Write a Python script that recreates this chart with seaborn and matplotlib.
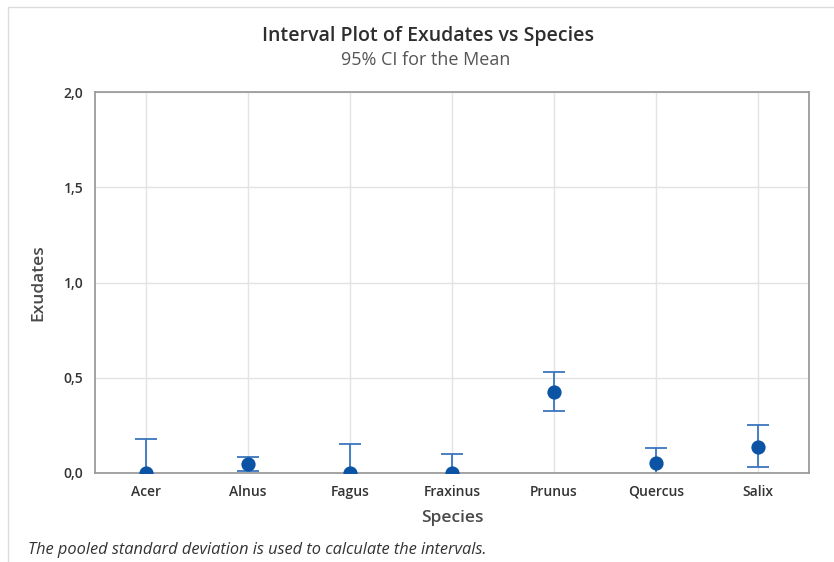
import numpy as np
import pandas as pd
import matplotlib
matplotlib.use("Agg")
import matplotlib.pyplot as plt
from matplotlib.lines import Line2D
import seaborn as sns

# Group means of exudates and their 95% confidence limits (pooled SD)
species = ["Acer", "Alnus", "Fagus", "Fraxinus", "Prunus", "Quercus", "Salix"]
means = [0.000, 0.046, 0.000, 0.000, 0.426, 0.052, 0.139]
lower = [-0.181, 0.008, -0.151, -0.102, 0.323, -0.028, 0.029]
upper = [0.181, 0.083, 0.151, 0.102, 0.530, 0.132, 0.250]
yticks = [0.0, 0.5, 1.0, 1.5, 2.0]
ytick_labels = ["0,0", "0,5", "1,0", "1,5", "2,0"]

df = pd.DataFrame({"Species": species, "Exudates": means,
                   "Lower": lower, "Upper": upper})

sns.set_theme(style="white")
plt.rcParams["font.family"] = ["Open Sans", "DejaVu Sans"]

W, H = 834, 562
fig = plt.figure(figsize=(W / 100, H / 100), dpi=100)
fig.patch.set_facecolor("white")

ax = fig.add_axes([95 / W, 1 - 473 / H, (809 - 95) / W, (473 - 92) / H])

point_color = "#0A53A5"
bar_color = "#3A75BD"
grid_color = "#E3E3E3"
spine_color = "#9C9C9C"
text_color = "#333333"

# Confidence intervals with caps
yerr = np.vstack([df["Exudates"] - df["Lower"], df["Upper"] - df["Exudates"]])
ax.errorbar(df["Species"], df["Exudates"], yerr=yerr, fmt="none",
            ecolor=bar_color, elinewidth=1.3, capsize=8, capthick=1.3,
            zorder=2)

# Group means; points on the lower limit are cut by the frame
sns.scatterplot(data=df, x="Species", y="Exudates", color=point_color,
                s=105, linewidth=0, ax=ax, zorder=3, clip_on=True)

ax.set_xlim(-0.5, len(species) - 0.5)
ax.set_ylim(0, 2.0)
ax.set_yticks(yticks)
ax.set_yticklabels(ytick_labels)
ax.set_xticks(range(len(species)))
ax.set_xticklabels(species)

# Grid behind everything, on both axes
ax.set_axisbelow(True)
ax.grid(True, axis="both", color=grid_color, linewidth=1.0)

for s in ax.spines.values():
    s.set_visible(True)
    s.set_color(spine_color)
    s.set_linewidth(1.3)

ax.tick_params(axis="both", direction="out", length=5, width=1.0,
               color=spine_color, labelsize=10, labelcolor=text_color)
for lab in ax.get_xticklabels() + ax.get_yticklabels():
    lab.set_fontweight("semibold")

ax.set_xlabel("Species", fontsize=12.5, color="#4A4A4A", fontweight="semibold",
              labelpad=8)
ax.set_ylabel("Exudates", fontsize=12.5, color="#4A4A4A", fontweight="semibold",
              labelpad=12)

fig.text(428 / W, 1 - 36 / H, "Interval Plot of Exudates vs Species",
         ha="center", va="center", fontsize=14, color="#2E2E2E",
         fontweight="semibold")
fig.text(426 / W, 1 - 60 / H, "95% CI for the Mean",
         ha="center", va="center", fontsize=13, color="#555555")
fig.text(28 / W, 1 - 550 / H,
         "The pooled standard deviation is used to calculate the intervals.",
         ha="left", va="center", fontsize=11.8, color=text_color,
         style="italic")

# Light frame along the top and left edges of the graph window
fig.add_artist(Line2D([8 / W, 8 / W], [0, 1 - 7 / H], transform=fig.transFigure,
                      color="#DCDCDC", linewidth=1.0))
fig.add_artist(Line2D([8 / W, 1], [1 - 7 / H, 1 - 7 / H], transform=fig.transFigure,
                      color="#DCDCDC", linewidth=1.0))

fig.savefig("out.png", dpi=100)
